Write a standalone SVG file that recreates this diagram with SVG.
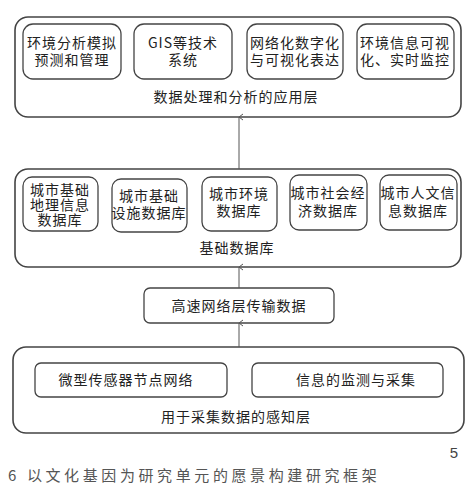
<svg xmlns="http://www.w3.org/2000/svg" width="469" height="496" viewBox="0 0 469 496">
<defs>
<marker id="ah" viewBox="0 0 8 8" refX="4" refY="1" markerWidth="8" markerHeight="8" markerUnits="userSpaceOnUse" orient="auto-start-reverse">
<path d="M1,5 L4,1 L7,5" fill="none" stroke="#555" stroke-width="1"/>
</marker>
</defs>
<style>
.outer{fill:#fff;stroke:#444;stroke-width:1.6}
.inner{fill:#fff;stroke:#444;stroke-width:1.3}
.t{font-family:"Noto Sans CJK SC","Liberation Sans",sans-serif;font-size:14px;fill:#222;text-anchor:middle;letter-spacing:1px}
.c{stroke:#555;stroke-width:1;fill:none}
</style>
<rect width="469" height="496" fill="#fff"/>
<g id="layer-app">
<rect class="outer" x="15" y="17" width="446" height="100" rx="13"/>
<text class="t" x="236" y="102">数据处理和分析的应用层</text>
</g>
<g id="app1"><rect class="inner" x="23" y="24" width="98" height="55" rx="10"/>
<text class="t" x="72" y="48">环境分析模拟</text><text class="t" x="72" y="65">预测和管理</text></g>
<g id="app2"><rect class="inner" x="134" y="24" width="98" height="55" rx="10"/>
<text class="t" x="183" y="48">GIS等技术</text><text class="t" x="183" y="65">系统</text></g>
<g id="app3"><rect class="inner" x="247" y="24" width="96" height="55" rx="10"/>
<text class="t" x="295" y="48">网络化数字化</text><text class="t" x="295" y="65">与可视化表达</text></g>
<g id="app4"><rect class="inner" x="357" y="24" width="97" height="55" rx="10"/>
<text class="t" x="405" y="48">环境信息可视</text><text class="t" x="405" y="65">化、实时监控</text></g>

<g id="layer-db">
<rect class="outer" x="15" y="169" width="446" height="98" rx="13"/>
<text class="t" x="237" y="253">基础数据库</text>
</g>
<g id="db1"><rect class="inner" x="23" y="177" width="75" height="54" rx="9"/>
<text class="t" x="60" y="195">城市基础</text><text class="t" x="60" y="210">地理信息</text><text class="t" x="60" y="225">数据库</text></g>
<g id="db2"><rect class="inner" x="112" y="179" width="75" height="53" rx="9"/>
<text class="t" x="149" y="201">城市基础</text><text class="t" x="149" y="218">设施数据库</text></g>
<g id="db3"><rect class="inner" x="202" y="177" width="75" height="54" rx="9"/>
<text class="t" x="239" y="199">城市环境</text><text class="t" x="239" y="216">数据库</text></g>
<g id="db4"><rect class="inner" x="290" y="175" width="77" height="55" rx="9"/>
<text class="t" x="328" y="198">城市社会经</text><text class="t" x="328" y="216">济数据库</text></g>
<g id="db5"><rect class="inner" x="380" y="175" width="77" height="55" rx="9"/>
<text class="t" x="418" y="198">城市人文信</text><text class="t" x="418" y="216">息数据库</text></g>

<g id="net"><rect class="inner" x="144" y="288" width="190" height="35" rx="6"/>
<text class="t" x="239" y="311">高速网络层传输数据</text></g>

<g id="layer-sense">
<rect class="outer" x="13" y="347" width="451" height="86" rx="13"/>
<text class="t" x="236" y="422">用于采集数据的感知层</text>
</g>
<g id="s1"><rect class="inner" x="35" y="363" width="192" height="34" rx="6"/>
<text class="t" x="126" y="385">微型传感器节点网络</text></g>
<g id="s2"><rect class="inner" x="252" y="363" width="191" height="34" rx="6"/>
<text class="t" x="356" y="385">信息的监测与采集</text></g>

<g id="connectors">
<line class="c" x1="239" y1="169" x2="239" y2="117" marker-end="url(#ah)"/>
<line class="c" x1="239" y1="288" x2="239" y2="267" marker-end="url(#ah)"/>
<line class="c" x1="239" y1="347" x2="239" y2="323" marker-end="url(#ah)"/>
</g>

<text x="454" y="458" style="font-family:'Liberation Sans',sans-serif;font-size:15px;fill:#444;text-anchor:middle">5</text>
<text x="8" y="481" style="font-family:'Noto Sans CJK SC','Liberation Sans',sans-serif;font-size:15px;fill:#555;letter-spacing:3.6px">6 以文化基因为研究单元的愿景构建研究框架</text>
</svg>
